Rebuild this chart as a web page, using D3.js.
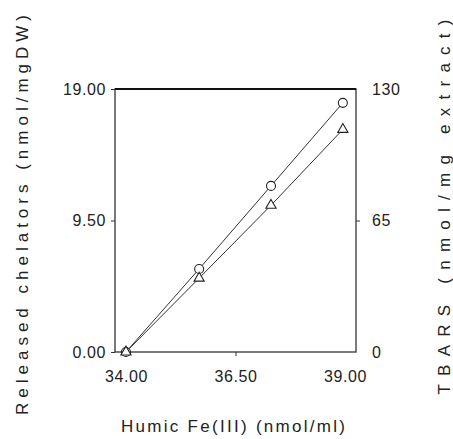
<!DOCTYPE html>
<html>
<head>
<meta charset="utf-8">
<script src="https://cdn.jsdelivr.net/npm/d3@7"></script>
<style>
  body { margin: 0; background: #fff; }
  text { font-family: "Liberation Sans", Arial, sans-serif; fill: #222; }
</style>
</head>
<body>
<div id="container"></div>
<script>
/* DATA */
const ironX = [34.0, 35.67, 37.31, 38.95];
const chelators = [0, 6.0, 12.0, 18.0];
const tbars = [0, 36.5, 72.5, 110];
const xTicks = [34.0, 36.5, 39.0];
const yLeftTicks = [0, 9.5, 19];
const yRightTicks = [0, 65, 130];

/* CONSTANTS */
const width = 453, height = 439,
      margin = {top: 89, left: 115, bottom: 87, right: 97};

const svg = d3.select("#container")
              .append("svg")
              .attr("width", width)
              .attr("height", height);

// SCALES
const xScale = d3.scaleLinear()
                 .domain([33.75, 39.25])
                 .range([margin.left, width - margin.right]);

const yLeft = d3.scaleLinear()
                .domain([0, 19])
                .range([height - margin.bottom, margin.top]);

const yRight = d3.scaleLinear()
                 .domain([0, 130])
                 .range([height - margin.bottom, margin.top]);

// FRAME
svg.append("rect")
   .attr("x", margin.left)
   .attr("y", margin.top)
   .attr("width", width - margin.left - margin.right)
   .attr("height", height - margin.top - margin.bottom)
   .attr("fill", "none")
   .attr("stroke", "#333")
   .attr("stroke-width", 1.3);

svg.append("line")
   .attr("x1", margin.left).attr("x2", width - margin.right)
   .attr("y1", margin.top).attr("y2", margin.top)
   .attr("stroke", "#111")
   .attr("stroke-width", 2);

// AXES
const fmt2 = d3.format(".2f");

const xAxis = d3.axisBottom(xScale).tickValues(xTicks).tickFormat(fmt2).tickSize(4).tickPadding(15);
const leftAxis = d3.axisLeft(yLeft).tickValues(yLeftTicks).tickFormat(fmt2).tickSize(4).tickPadding(5);
const rightAxis = d3.axisRight(yRight).tickValues(yRightTicks).tickFormat(d3.format("d")).tickSize(4).tickPadding(12);

function styleAxis(g) {
  g.select(".domain").remove();
  g.selectAll(".tick line").attr("stroke", "#333");
  g.selectAll(".tick text")
   .attr("font-size", 16)
   .attr("letter-spacing", 0.6)
   .attr("fill", "#222");
}

svg.append("g")
   .attr("transform", `translate(0,${height - margin.bottom})`)
   .call(xAxis)
   .call(styleAxis)
   .selectAll(".tick line")
   .attr("stroke-opacity", d => d === 36.5 ? 1 : 0);

svg.append("g")
   .attr("transform", `translate(${margin.left},0)`)
   .call(leftAxis)
   .call(styleAxis);

svg.append("g")
   .attr("transform", `translate(${width - margin.right},0)`)
   .call(rightAxis)
   .call(styleAxis)
   .selectAll(".tick line")
   .attr("stroke-opacity", d => d === 65 ? 1 : 0);

// LINES
const chelData = ironX.map((x, i) => ({x: x, y: chelators[i]}));
const tbarsData = ironX.map((x, i) => ({x: x, y: tbars[i]}));

const lineLeft = d3.line().x(d => xScale(d.x)).y(d => yLeft(d.y));
const lineRight = d3.line().x(d => xScale(d.x)).y(d => yRight(d.y));

svg.append("path")
   .datum(chelData)
   .attr("fill", "none")
   .attr("stroke", "#333")
   .attr("stroke-width", 1)
   .attr("d", lineLeft);

svg.append("path")
   .datum(tbarsData)
   .attr("fill", "none")
   .attr("stroke", "#333")
   .attr("stroke-width", 1)
   .attr("d", lineRight);

// MARKERS
svg.selectAll("circle.chel")
   .data(chelData)
   .join("circle")
   .attr("class", "chel")
   .attr("cx", d => xScale(d.x))
   .attr("cy", d => yLeft(d.y))
   .attr("r", 4.5)
   .attr("fill", "#fff")
   .attr("stroke", "#222")
   .attr("stroke-width", 1.1);

svg.selectAll("path.tbars")
   .data(tbarsData)
   .join("path")
   .attr("class", "tbars")
   .attr("transform", d => `translate(${xScale(d.x)},${yRight(d.y)})`)
   .attr("d", d3.symbol(d3.symbolTriangle, 45))
   .attr("fill", "#fff")
   .attr("stroke", "#222")
   .attr("stroke-width", 1.1);

// TITLES
svg.append("text")
   .attr("transform", "translate(28,215) rotate(-90)")
   .attr("text-anchor", "middle")
   .attr("font-size", 17)
   .attr("textLength", 400)
   .attr("lengthAdjust", "spacing")
   .text("Released  chelators  (nmol/mgDW)");

svg.append("text")
   .attr("transform", "translate(450,207) rotate(-90)")
   .attr("text-anchor", "middle")
   .attr("font-size", 17)
   .attr("textLength", 375)
   .attr("lengthAdjust", "spacing")
   .text("TBARS  (nmol/mg  extract)");

svg.append("text")
   .attr("x", 233)
   .attr("y", 432)
   .attr("text-anchor", "middle")
   .attr("font-size", 17)
   .attr("textLength", 224)
   .attr("lengthAdjust", "spacing")
   .text("Humic  Fe(III)  (nmol/ml)");
</script>
</body>
</html>
